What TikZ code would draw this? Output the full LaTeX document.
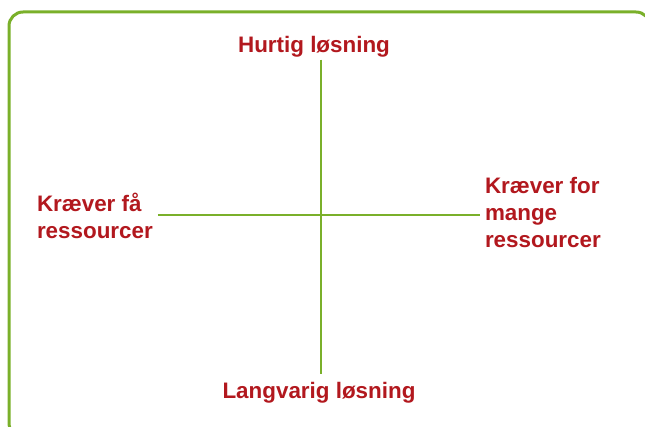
\documentclass[tikz,border=0pt]{standalone}
\usepackage{fontspec}
\setmainfont{Liberation Sans}
\usepackage{xcolor}
\usepackage{tikz}
\usetikzlibrary{positioning,calc}

\definecolor{framegreen}{RGB}{122,176,42}
\definecolor{labelred}{RGB}{178,24,30}

\begin{document}
\begin{tikzpicture}[
  x=1pt, y=1pt,
  frame/.style={
    draw=framegreen,
    line width=3pt,
    rounded corners=14pt
  },
  axisline/.style={draw=framegreen, line width=2pt},
  lbl/.style={
    text=labelred,
    font=\bfseries\fontsize{22.4}{27}\selectfont,
    align=left,
    inner sep=3pt,
    outer sep=2pt
  }
]

\useasboundingbox (0,0) rectangle (645,426);
\clip (0,0) rectangle (645,426);

% outer frame (runs past the right and bottom edge)
\draw[frame] (9,-11) rectangle (650,414);

\coordinate (c) at (320.5,209.3);

\node[lbl, anchor=base] (fast) at (314,373) {Hurtig løsning};
\node[lbl, anchor=base] (slow) at (319,28) {Langvarig løsning};
\node[lbl, anchor=west] (few) at (32,210.5) {Kræver få\\ressourcer};
\node[lbl, anchor=west] (many) at (480,214) {Kræver for\\mange\\ressourcer};

\draw[axisline, shorten <=-3pt, shorten >=3pt] (c |- fast.south) -- (c |- slow.north);
\draw[axisline] (few.east) -- (few.east -| many.west);

\end{tikzpicture}
\end{document}
